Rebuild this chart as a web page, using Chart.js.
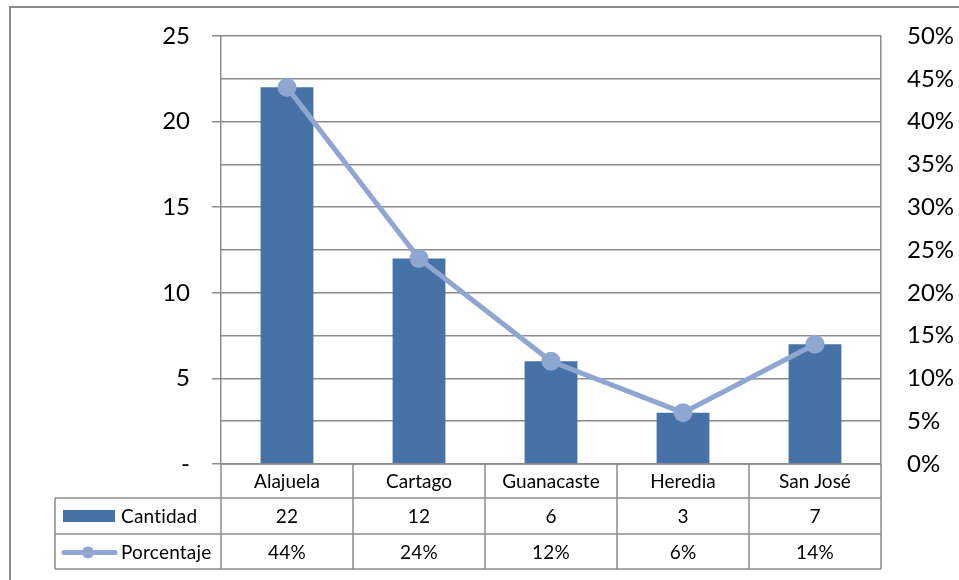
<!DOCTYPE html>
<html>
<head>
<meta charset="utf-8">
<script src="https://cdn.jsdelivr.net/npm/chart.js@4.4.1/dist/chart.umd.min.js"></script>
<style>
  html, body { margin: 0; padding: 0; background: #fff; overflow: hidden; }
  #wrap { position: relative; width: 959px; height: 580px; }
  #frame { position: absolute; left: 9px; top: 6px; width: 1100px; height: 800px; border: 2px solid #8c8c8c; box-sizing: border-box; pointer-events: none; }
  canvas { position: absolute; left: 0; top: 0; }
</style>
</head>
<body>
<div id="wrap">
  <canvas id="c" width="959" height="580"></canvas>
  <div id="frame"></div>
</div>
<script>
const categories = ['Alajuela', 'Cartago', 'Guanacaste', 'Heredia', 'San José'];
const cantidad = [22, 12, 6, 3, 7];
const porcentaje = [0.44, 0.24, 0.12, 0.06, 0.14];
const leftTicks = [0, 5, 10, 15, 20, 25];
const rightTicks = ['0%', '5%', '10%', '15%', '20%', '25%', '30%', '35%', '40%', '45%', '50%'];

const FONT = 'Lato, "Liberation Sans", sans-serif';
const GRID = '#8c8c8c';
const BAR = '#4672a7';
const LINE = '#8fa6d0';

const tablePlugin = {
  id: 'dataTable',
  afterDraw(chart) {
    const ctx = chart.ctx;
    const x = chart.scales.x;
    const ca = chart.chartArea;
    const n = categories.length;
    const cw = (ca.right - ca.left) / n;
    const y0 = ca.bottom;
    const r1 = y0 + 34, r2 = r1 + 36, r3 = r2 + 35;
    const legL = 55;
    ctx.save();
    ctx.strokeStyle = GRID;
    ctx.lineWidth = 1.5;
    ctx.beginPath();
    ctx.moveTo(ca.left, y0); ctx.lineTo(ca.right, y0);
    [r1, r2, r3].forEach(yy => { ctx.moveTo(legL, yy); ctx.lineTo(ca.right, yy); });
    for (let i = 0; i <= n; i++) {
      const xx = ca.left + i * cw;
      ctx.moveTo(xx, y0); ctx.lineTo(xx, r3);
    }
    ctx.moveTo(legL, r1); ctx.lineTo(legL, r3);
    ctx.stroke();

    ctx.fillStyle = '#000';
    ctx.font = '19px ' + FONT;
    if ('letterSpacing' in ctx) ctx.letterSpacing = '0.2px';
    ctx.textAlign = 'center';
    ctx.textBaseline = 'middle';
    for (let i = 0; i < n; i++) {
      const cx = x.getPixelForValue(i);
      ctx.fillText(String(cantidad[i]), cx, (r1 + r2) / 2 + 1);
      ctx.fillText(Math.round(porcentaje[i] * 100) + '%', cx, (r2 + r3) / 2 + 1);
    }
    const ds = chart.data.datasets;
    ctx.fillStyle = BAR;
    ctx.fillRect(63, (r1 + r2) / 2 - 6, 52, 12);
    ctx.strokeStyle = LINE;
    ctx.lineWidth = 5;
    ctx.lineCap = 'round';
    ctx.beginPath();
    ctx.moveTo(64, (r2 + r3) / 2 + 1); ctx.lineTo(115, (r2 + r3) / 2 + 1);
    ctx.stroke();
    ctx.fillStyle = LINE;
    ctx.beginPath();
    ctx.arc(88, (r2 + r3) / 2 + 1, 6, 0, Math.PI * 2);
    ctx.fill();
    ctx.fillStyle = '#000';
    ctx.textAlign = 'left';
    ctx.fillText(ds[0].label, 121, (r1 + r2) / 2 + 1);
    ctx.fillText(ds[1].label, 121, (r2 + r3) / 2 + 1);
    ctx.restore();
  }
};

new Chart(document.getElementById('c'), {
  data: {
    labels: categories,
    datasets: [
      {
        type: 'bar', label: 'Cantidad', data: cantidad, yAxisID: 'y',
        backgroundColor: BAR, borderWidth: 0,
        categoryPercentage: 1, barPercentage: 0.4, order: 2
      },
      {
        type: 'line', label: 'Porcentaje', data: porcentaje, yAxisID: 'y1',
        borderColor: LINE, backgroundColor: LINE, borderWidth: 5,
        pointRadius: 9.5, pointBackgroundColor: LINE, pointBorderWidth: 0,
        tension: 0, order: 1
      }
    ]
  },
  options: {
    responsive: false,
    devicePixelRatio: 1,
    animation: false,
    layout: { padding: { top: 36, left: 0, right: 0, bottom: 0 } },
    plugins: { legend: { display: false }, tooltip: { enabled: false } },
    scales: {
      x: {
        offset: true,
        grid: { display: false, drawTicks: false },
        border: { display: false },
        ticks: { color: '#000', font: { family: FONT, size: 19 }, padding: 6, maxRotation: 0 },
        afterFit(s) { s.height = 116; s.paddingLeft = 0; s.paddingRight = 0; }
      },
      y: {
        position: 'left', min: 0, max: 25,
        afterBuildTicks(s) { s.ticks = leftTicks.map(v => ({ value: v })); },
        grid: { drawOnChartArea: false, color: GRID, tickLength: 9, lineWidth: 1.5 },
        border: { display: true, color: GRID, width: 1.5 },
        ticks: { color: '#000', font: { family: FONT, size: 24 }, padding: 22,
                 callback: v => v === 0 ? '-' : String(v) },
        afterFit(s) { s.width = 221; s.paddingTop = 0; s.paddingBottom = 0; }
      },
      y1: {
        position: 'right', min: 0, max: 0.5,
        afterBuildTicks(s) { s.ticks = rightTicks.map((t, i) => ({ value: i * 0.05 })); },
        grid: { drawOnChartArea: true, drawTicks: false, color: GRID, lineWidth: 1.5 },
        border: { display: true, color: GRID, width: 1.5 },
        ticks: { color: '#000', font: { family: FONT, size: 24 }, padding: 26,
                 callback: (v, i) => rightTicks[i] },
        afterFit(s) { s.width = 78; s.paddingTop = 0; s.paddingBottom = 0; }
      }
    }
  },
  plugins: [tablePlugin]
});
</script>
</body>
</html>
